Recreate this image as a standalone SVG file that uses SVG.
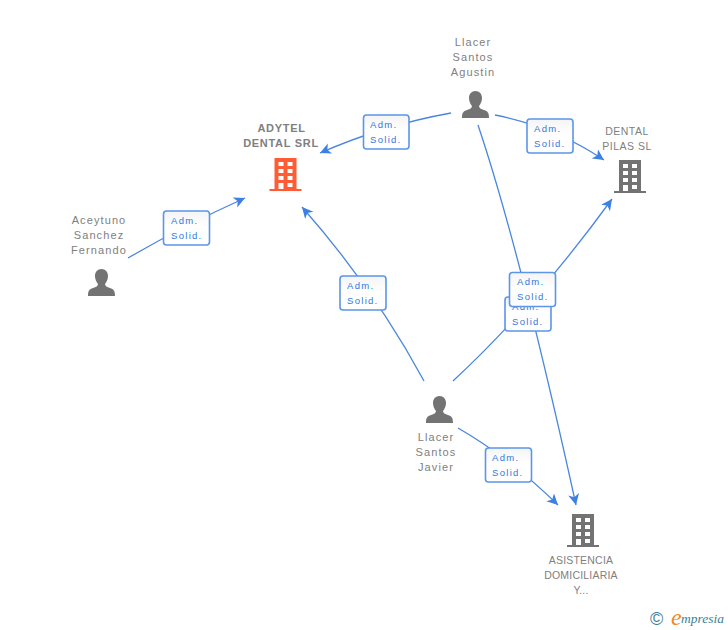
<svg xmlns="http://www.w3.org/2000/svg" width="728" height="630" viewBox="0 0 728 630">
<style>
.c{fill:none;stroke:#4a86e0;stroke-width:1.3}
.b{fill:url(#g);stroke:#5b96e8;stroke-width:1.6}
.bl{font:9.5px "Liberation Sans",Arial,sans-serif;fill:#2f78e0;letter-spacing:1.3px}
.t{font:11px "Liberation Sans",Arial,sans-serif;fill:#808080;text-anchor:middle;letter-spacing:1.1px}
.u{font:10.5px "Liberation Sans",Arial,sans-serif;fill:#808080;text-anchor:middle;letter-spacing:.5px}
.a{letter-spacing:.2px}
.tb{font:bold 11px "Liberation Sans",Arial,sans-serif;fill:#808080;text-anchor:middle;letter-spacing:.7px}
.p{fill:#737373}
.w{fill:#fff}
</style>
<defs>
<linearGradient id="g" x1="0" y1="0" x2="0" y2="1"><stop offset="0" stop-color="#f4f4f4"/><stop offset=".45" stop-color="#fff"/></linearGradient>
<marker id="a" markerUnits="userSpaceOnUse" markerWidth="13" markerHeight="12" refX="11" refY="5.500" orient="auto"><path d="M0 0L11 5.500L0 11L3 5.500Z" fill="#3c80e4"/></marker>
<path id="per" d="M13.500 0C17.500 0 20 3 20 7C20 10.500 18.500 13 17 15C17 17 19 18 22 19C25.500 20.200 27 21.500 27 27H0C0 21.500 1.500 20.200 5 19C8 18 10 17 10 15C8.500 13 7 10.500 7 7C7 3 9.500 0 13.500 0Z"/>
<g id="bld"><path d="M5 0H27V31H32V33H0V31H5Z"/>
<g class="w"><rect x="9" y="4" width="5" height="4"/><rect x="18" y="4" width="5" height="4"/><rect x="9" y="11" width="5" height="4"/><rect x="18" y="11" width="5" height="4"/><rect x="9" y="18" width="5" height="4"/><rect x="18" y="18" width="5" height="4"/><rect x="9" y="25" width="5" height="6"/><rect x="18" y="25" width="5" height="4"/></g></g>
</defs>
<rect width="728" height="630" fill="#fff"/>
<g id="connectors">
<path class="c" marker-end="url(#a)" d="M451 113Q384 125 320 153"/>
<path class="c" marker-end="url(#a)" d="M495 115Q555 127 604 160"/>
<path class="c" marker-end="url(#a)" d="M478 125Q520 250 576 505"/>
<path class="c" marker-end="url(#a)" d="M453 381Q535 305 612 199"/>
<path class="c" marker-end="url(#a)" d="M424 381Q375 290 302 207"/>
<path class="c" marker-end="url(#a)" d="M458 428Q510 458 558 505"/>
<path class="c" marker-end="url(#a)" d="M128 258Q185 225 245 198"/>
</g>
<g id="label-1"><rect class="b" x="363.500" y="115" width="45.500" height="34" rx="3"/><text class="bl" x="370" y="128">Adm.</text><text class="bl" x="370" y="143">Solid.</text></g>
<g id="label-2"><rect class="b" x="527" y="119" width="46" height="34" rx="3"/><text class="bl" x="534" y="132">Adm.</text><text class="bl" x="534" y="147">Solid.</text></g>
<g id="label-3"><rect class="b" x="163.500" y="211" width="46" height="34" rx="3"/><text class="bl" x="171" y="224">Adm.</text><text class="bl" x="171" y="239">Solid.</text></g>
<g id="label-4"><rect class="b" x="340" y="276" width="46" height="34" rx="3"/><text class="bl" x="347" y="289">Adm.</text><text class="bl" x="347" y="304">Solid.</text></g>
<g id="label-5"><rect class="b" x="505" y="297" width="46" height="34" rx="3"/><text class="bl" x="512" y="310">Adm.</text><text class="bl" x="512" y="325">Solid.</text></g>
<g id="label-6"><rect class="b" x="509.500" y="272.500" width="46" height="34" rx="3"/><text class="bl" x="517" y="285">Adm.</text><text class="bl" x="517" y="300">Solid.</text></g>
<g id="label-7"><rect class="b" x="485.500" y="448" width="46" height="34" rx="3"/><text class="bl" x="492" y="461">Adm.</text><text class="bl" x="492" y="476">Solid.</text></g>
<g id="adytel"><text class="tb" x="281.500" y="132">ADYTEL</text><text class="tb" x="281" y="147">DENTAL SRL</text><use href="#bld" x="269.500" y="158" fill="#ff5c35"/></g>
<g id="pilas"><text class="u" x="627" y="135">DENTAL</text><text class="u" x="627" y="150">PILAS SL</text><use href="#bld" x="614" y="160" fill="#737373"/></g>
<g id="asistencia"><text class="u a" x="581" y="564">ASISTENCIA</text><text class="u a" x="581" y="579">DOMICILIARIA</text><text class="u a" x="581" y="594">Y...</text><use href="#bld" x="567" y="514" fill="#737373"/></g>
<g id="agustin"><text class="t" x="473" y="46">Llacer</text><text class="t" x="473" y="61">Santos</text><text class="t" x="473" y="76">Agustin</text><use href="#per" class="p" x="462" y="91"/></g>
<g id="aceytuno"><text class="t" x="99" y="224">Aceytuno</text><text class="t" x="99" y="239">Sanchez</text><text class="t" x="99" y="254">Fernando</text><use href="#per" class="p" x="88" y="269"/></g>
<g id="javier"><text class="t" x="436" y="441">Llacer</text><text class="t" x="436" y="456">Santos</text><text class="t" x="436" y="471">Javier</text><use href="#per" class="p" x="426" y="396"/></g>
<g id="logo"><text x="650" y="625" font-family="'Liberation Sans',sans-serif" font-size="18" fill="#3d7f96">©</text><text x="671" y="625" font-family="'Liberation Serif',serif" font-style="italic" font-size="24" fill="#f08a1d">e</text><text x="681" y="623" font-family="'Liberation Serif',serif" font-style="italic" font-size="13.500" fill="#3d7f96">mpresia</text></g>
</svg>
